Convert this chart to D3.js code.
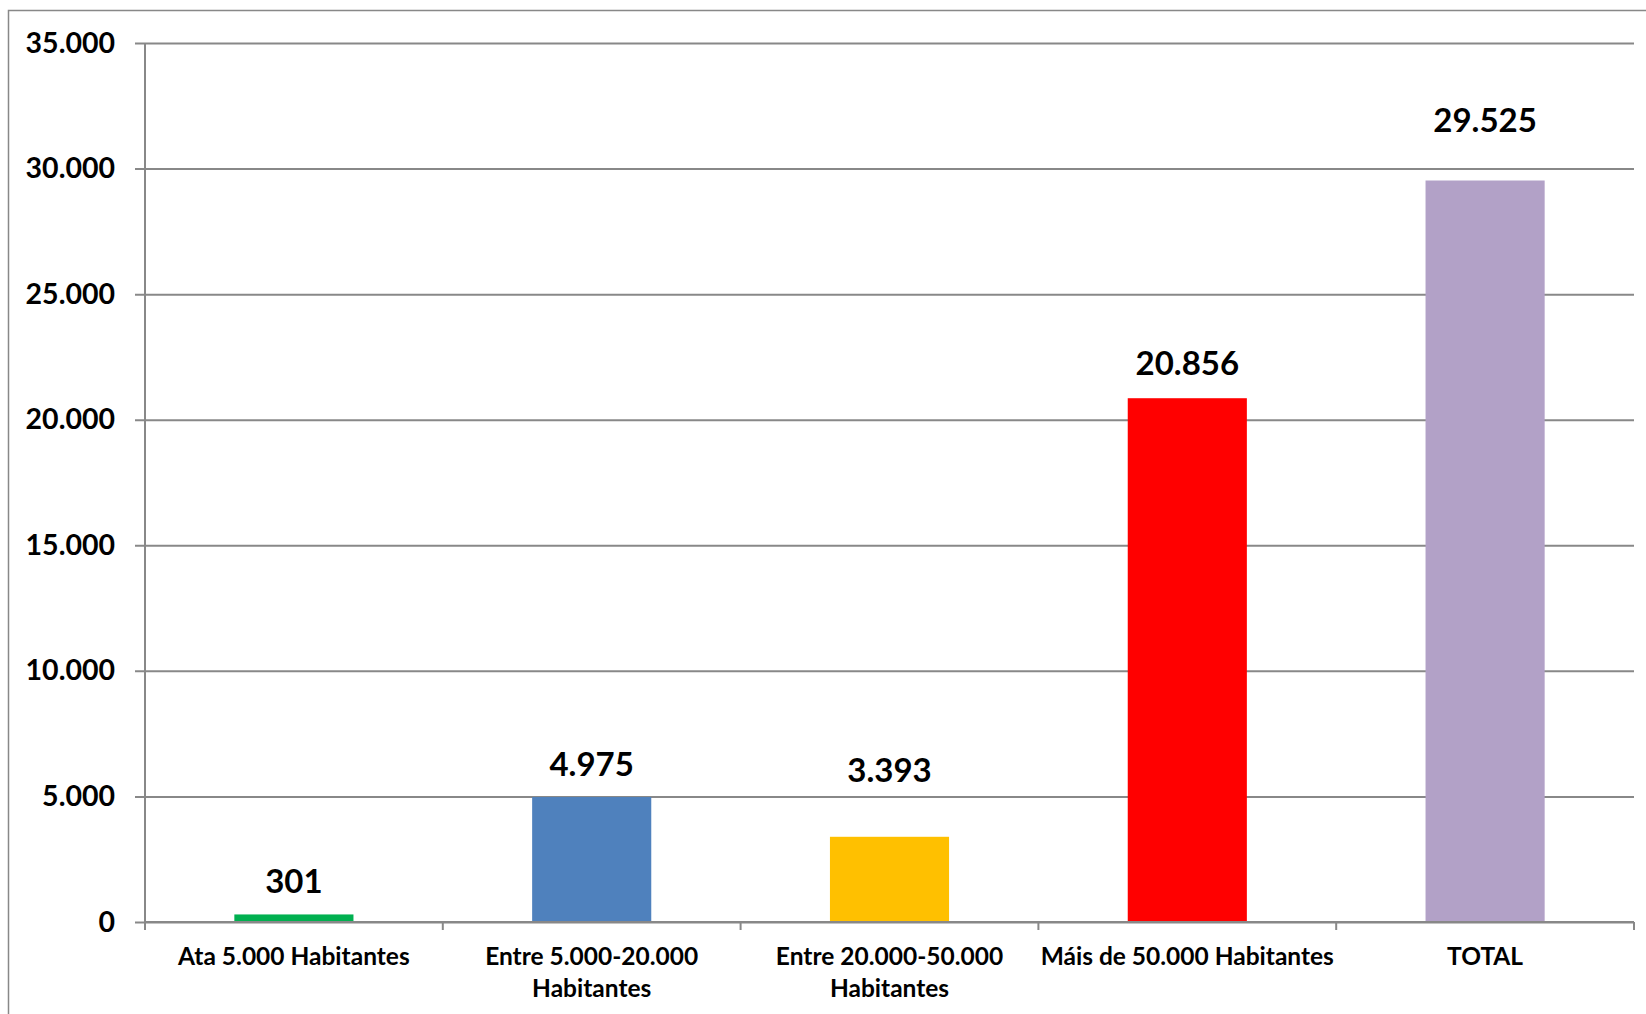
<!DOCTYPE html>
<html>
<head>
<meta charset="utf-8">
<script src="https://cdn.jsdelivr.net/npm/d3@7"></script>
<style>
  html, body { margin: 0; padding: 0; background: #fff; }
  svg { display: block; }
  text { font-family: Lato, "Open Sans", sans-serif; font-weight: bold; fill: #000; }
</style>
</head>
<body>
<svg id="chart" width="1646" height="1014"></svg>
<script>
// ---- data ----
const categories = [
  ["Ata 5.000 Habitantes"],
  ["Entre 5.000-20.000", "Habitantes"],
  ["Entre 20.000-50.000", "Habitantes"],
  ["Máis de 50.000 Habitantes"],
  ["TOTAL"]
];
const values = [301, 4975, 3393, 20856, 29525];
const valueLabels = ["301", "4.975", "3.393", "20.856", "29.525"];
const barColors = ["#00B050", "#4F81BD", "#FFC000", "#FF0000", "#B2A1C7"];
const yTicks = [0, 5000, 10000, 15000, 20000, 25000, 30000, 35000];
const yTickLabels = ["0", "5.000", "10.000", "15.000", "20.000", "25.000", "30.000", "35.000"];
// label lift above bar top (layout, labels were placed manually in the original)
const labelLift = [21, 21, 55, 23, 49];

// ---- layout ----
const svg = d3.select("#chart");
const L = 145, R = 1634, T = 43, B = 922;
const gridColor = "#888888";

// outer frame
svg.append("rect")
  .attr("x", 8.5).attr("y", 10.5)
  .attr("width", 1700).attr("height", 1100)
  .attr("fill", "none").attr("stroke", gridColor).attr("stroke-width", 1.5);

const x = d3.scaleBand()
  .domain(d3.range(categories.length))
  .range([L, R])
  .paddingInner(0.6).paddingOuter(0.3);
const xb = d3.scaleBand().domain(d3.range(categories.length)).range([L, R]);

const y = d3.scaleLinear().domain([0, 35000]).range([B, T]);

// gridlines + y tick labels
const yAxis = d3.axisLeft(y)
  .tickValues(yTicks)
  .tickSize(-(R - L))
  .tickSizeOuter(0)
  .tickPadding(30)
  .tickFormat((d, i) => yTickLabels[i]);
const gy = svg.append("g").attr("transform", `translate(${L},0)`).call(yAxis);
gy.select(".domain").remove();
gy.selectAll(".tick line")
  .attr("x1", -10)
  .attr("stroke", gridColor).attr("stroke-width", 2);
gy.selectAll(".tick text")
  .attr("font-family", "Lato, 'Open Sans', sans-serif")
  .attr("font-weight", "bold")
  .attr("font-size", 28.5)
  .attr("fill", "#000");

// left axis line
svg.append("line")
  .attr("x1", L).attr("x2", L).attr("y1", T).attr("y2", B)
  .attr("stroke", gridColor).attr("stroke-width", 2);

// bars
svg.append("g").selectAll("rect")
  .data(values)
  .join("rect")
  .attr("x", (d, i) => x(i))
  .attr("width", x.bandwidth())
  .attr("y", d => y(d))
  .attr("height", d => B - y(d))
  .attr("fill", (d, i) => barColors[i]);

// bottom axis line + category ticks
svg.append("line")
  .attr("x1", L).attr("x2", R).attr("y1", B).attr("y2", B)
  .attr("stroke", gridColor).attr("stroke-width", 2);
const bounds = d3.range(categories.length + 1).map(i => i < categories.length ? xb(i) : R);
svg.append("g").selectAll("line")
  .data(bounds)
  .join("line")
  .attr("x1", d => d).attr("x2", d => d)
  .attr("y1", B).attr("y2", B + 8)
  .attr("stroke", gridColor).attr("stroke-width", 2);

// value labels
svg.append("g").selectAll("text")
  .data(values)
  .join("text")
  .attr("x", (d, i) => x(i) + x.bandwidth() / 2)
  .attr("y", (d, i) => y(d) - labelLift[i])
  .attr("text-anchor", "middle")
  .attr("font-size", 33)
  .text((d, i) => valueLabels[i]);

// category labels
const cat = svg.append("g").selectAll("text")
  .data(categories)
  .join("text")
  .attr("x", (d, i) => xb(i) + xb.bandwidth() / 2)
  .attr("y", 965)
  .attr("text-anchor", "middle")
  .attr("font-size", 24.5);
cat.selectAll("tspan")
  .data(d => d)
  .join("tspan")
  .attr("x", function () { return this.parentNode.getAttribute("x"); })
  .attr("dy", (d, j) => j === 0 ? 0 : 32)
  .text(d => d);
</script>
</body>
</html>
